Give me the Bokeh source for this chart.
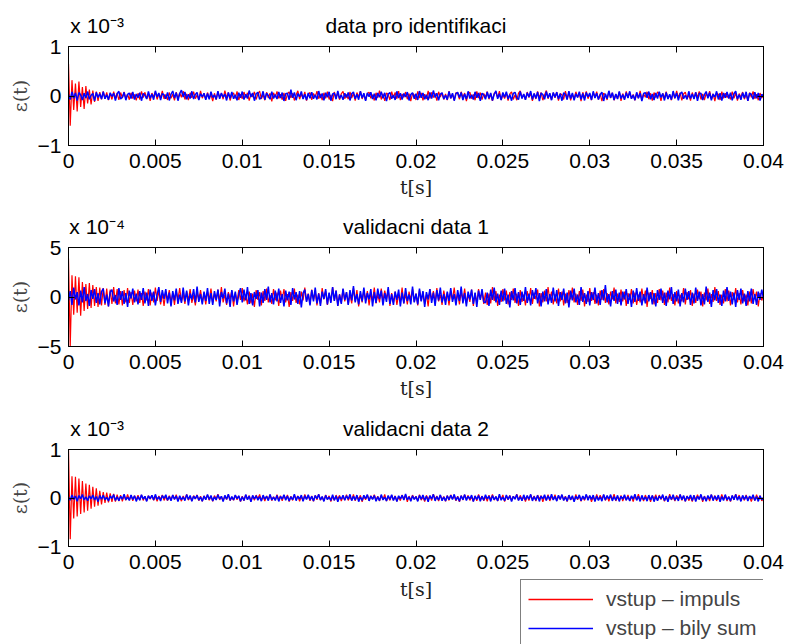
import numpy as np
from bokeh.plotting import figure
from bokeh.layouts import column
from bokeh.models import (Range1d, LinearAxis, FixedTicker, Legend,
                          LegendItem, CustomJSTickFormatter, Label)
from bokeh.embed import file_html
from bokeh.resources import INLINE

# ---------------- data (error values in units of 1e-6) ----------------
t_end = 0.04
x_ticks = [0, 0.005, 0.01, 0.015, 0.02, 0.025, 0.03, 0.035, 0.04]
titles = ["data pro identifikaci", "validacni data 1", "validacni data 2"]
exponents = ["x 10\u207b\u00b3", "x 10\u207b\u2074", "x 10\u207b\u00b3"]
y_limits = [1, 5, 1]
unit_div = [1000.0, 100.0, 1000.0]   # 1e-6 -> axis units 1e-3 / 1e-4 / 1e-3
legend_labels = ["vstup \u2013 impuls", "vstup \u2013 bily sum"]
x_label = "t[s]"
y_label = "\u03b5(t)"

impuls_1 = [
 650,-600,320,-280,250,-310,290,-220,180,-260,200,-150,130,-170,110,-120,90,-100,80,-70,
 95,-60,75,-85,50,-70,90,-45,60,-80,70,-40,85,-55,35,-75,65,-50,30,-90,
 55,-70,95,-30,75,-55,40,-100,60,-20,85,-70,45,-35,105,-60,30,-80,70,-45,
 35,-90,80,-50,60,-25,100,-70,40,-85,65,-35,90,-55,20,-75,105,-45,50,-65,
 70,-45,30,-105,55,-75,90,-30,50,-65,110,-40,70,-90,25,60,-50,95,-80,35,
 -55,80,-30,65,-95,45,-20,85,-70,40,100,-60,30,-85,75,-40,55,-110,65,-25,
 95,-50,35,-75,65,-100,45,80,-35,55,-90,25,105,-65,40,-50,85,-95,35,70,
 -80,50,-25,100,-55,40,-85,65,-45,90,-70,20,-105,80,-30,60,-75,45,95,-55,
 30,-65,85,-40,55,-95,70,-20,100,-60,35,-85,50,75,-45,25,-90,65,-35,110,
 -70,45,-100,60,30,-80,90,-35,70,-55,100,-85,40,-25,80,-65,50,-105,55,20,
 -80,95,-40,65,-90,35,-60,105,-50,75,-30,55,-95,85,-20,60,-70,40,-85,100,
 -50,35,-90,70,45,-65,85,-30,60,-105,40,80,-55,30,-85,95,-40,70,-75,50,
 -25,90,-65,40,-100,55,75,-35,100,-80,30,-50,65,-95,45,85,-70,25,-85,60,
 105,-45,35,-75,80,-30,55,-100,50,-60,95,-40,70,-85,20,110,-55,45,-80,65,
 -35,80,-95,50,25,-70,100,-50,65,-90,35,-60,85,-25,55,-105,75,-45,95,-55,
 40,-85,70,-30,90,-70,45,-105,60,20,-80,100,-40,65,-85,35,-55,85,-100,50,
 -65,95,-35,75,-50,30,-90,60,-45,105,-75,40,-25,85,-65,55,-95,70,-30,80,
 45,-100,55,-40,90,-60,25,-85,70,-50,105,-35,65,-90,40,80,-60,30,-95,70,
 -50,75,-25,95,-70,40,-85,55,-20,100,-65,45,-105,60,35,-80,90,-45,55,-30,
 25,-70,90,-45,60,-95,50,-30,80,-65,40,-100,70,-25,95,-55,35,-85,60,-40, 15]

bily_sum_1 = [
 30,-70,85,-45,60,-95,70,20,-80,55,-40,90,-65,15,50,-100,75,-30,45,-60,
 85,-55,25,-75,65,-10,55,-90,45,95,-60,-25,75,-85,35,60,-50,80,-70,40,
 -35,65,-95,50,15,-60,90,-45,40,-75,105,-20,60,-80,50,25,-55,70,-90,35,
 100,-40,65,-95,50,120,-20,80,-65,35,-50,95,-60,30,70,-80,45,-15,55,-75,
 50,-65,85,-30,20,-70,100,-55,60,-25,40,-90,70,-45,80,-55,25,-85,65,-35,
 90,-70,35,-50,110,-20,60,-95,45,75,-65,-30,95,-75,55,10,-65,85,-50,30,
 -60,80,-40,70,-100,45,55,-75,130,-35,70,-85,50,-15,90,-60,35,-80,60,-45,
 75,-55,25,-70,100,-40,50,-85,65,-25,85,-95,40,55,-65,105,-50,20,-75,55,
 -30,70,-90,45,80,-55,35,-75,95,-40,55,-100,65,-15,75,-60,45,-85,60,-25,
 85,-45,65,-105,40,70,-55,20,-80,95,-40,55,-70,50,-20,80,-90,30,65,-55,
 45,-80,100,-35,60,-65,25,-85,70,-50,110,-30,55,-85,40,65,-60,15,-75,90,
 -45,55,-95,50,75,-30,70,-80,40,-60,95,-50,25,-70,85,-35,60,-100,55,20,
 -65,80,-45,60,-90,35,105,-55,45,-80,70,-25,85,-60,30,-95,55,75,-40,-70,
 90,-50,40,-75,65,-20,100,-70,50,-45,80,-105,60,30,-65,90,-40,55,-85,70,
 -25,75,-60,45,-95,65,35,-75,100,-50,60,-85,45,-30,85,-65,50,-90,70,-20,
 60,-80,95,-40,55,-70,25,80,-100,45,-55,105,-35,65,-80,40,-60,90,-50,30,
 -75,65,-40,95,-55,20,-85,75,-45,55,-105,50,70,-35,90,-65,40,-80,60,-50,
 85,-30,50,-90,70,-60,35,-75,100,-40,60,-85,45,80,-55,15,-70,95,-50,40,
 -60,75,-100,50,55,-80,30,90,-45,65,-85,40,-25,95,-70,55,-95,60,-35,80,
 -50,65,-85,45,100,-60,25,-75,65,-40,85,-100,55,35,-65,75,-45,60,-90,30, 10]

impuls_2 = [
 390,-500,220,-180,210,-160,200,-190,150,-140,130,-120,140,-110,120,-90,100,-100,95,-85,
 90,-80,85,-95,75,-70,100,-65,80,-75,60,-85,70,-55,90,-60,50,-80,65,-45,
 75,-60,40,-90,55,-35,80,-85,45,-55,95,-40,65,-75,35,-90,55,-30,70,-60,
 40,-80,60,-25,90,-50,30,-70,55,-35,80,-60,20,-85,45,-30,70,-55,35,-75,
 55,-25,85,-65,35,-45,75,-40,100,-55,25,-80,50,-20,65,-95,40,-50,70,-30,
 90,-45,25,-75,55,-65,35,-100,70,-30,50,-85,60,-40,85,-55,20,-70,80,-35,
 45,-90,65,-25,80,-55,30,-100,50,-40,85,-60,25,-75,55,-35,95,-45,35,-65,
 75,-30,55,-85,40,-70,90,-25,60,-80,40,-50,100,-35,65,-90,30,-60,80,-45,
 50,-75,30,-65,90,-40,70,-95,35,-55,75,-30,60,-85,45,-35,95,-65,30,-55,
 85,-45,65,-20,75,-90,40,-60,55,-80,25,-45,95,-65,35,-75,55,-30,80,-50,
 35,-85,70,-40,50,-70,25,-95,80,-30,60,-55,90,-45,25,-80,65,-35,45,-85,
 60,-25,95,-55,40,-75,55,-35,85,-65,30,-50,75,-90,40,-60,80,-25,55,-70,
 45,-80,35,-65,100,-40,60,-90,25,-50,80,-35,65,-75,50,-30,85,-60,35,-90,
 70,-50,25,-85,60,-35,90,-70,45,-25,75,-95,40,-55,65,-45,100,-35,55,-75,
 30,-65,85,-45,55,-85,35,-60,70,-25,95,-55,35,-80,60,-40,75,-95,25,-50,
 90,-40,50,-70,25,-85,65,-30,80,-60,40,-75,55,-25,95,-65,35,-50,75,-45,
 55,-90,40,-30,80,-65,45,-80,25,-55,85,-35,65,-100,45,-20,70,-75,40,-60,
 80,-35,65,-80,45,-55,95,-40,30,-85,60,-65,25,-45,90,-75,50,-25,70,-90,
 35,-60,75,-25,55,-95,45,-35,85,-70,30,-50,100,-40,60,-80,25,-65,80,-45,
 65,-85,50,-30,90,-55,40,-75,70,-45,25,-85,55,-65,80,-25,55,-95,40,-35, 20]

bily_sum_2 = [
 -35,60,-80,95,-25,50,-85,65,-55,100,-40,30,-90,70,-20,80,-60,40,-75,55,
 85,-65,25,-95,50,75,-45,20,-80,90,-30,60,-70,40,-100,65,-15,85,-55,35,
 -75,60,-30,90,-65,45,-90,75,-40,55,-85,25,100,-50,70,-20,80,-65,45,-95,
 60,-35,85,-70,25,-60,95,-45,65,-85,35,-25,80,-55,105,-50,30,-75,55,-40,
 90,-70,40,-80,60,-30,75,-95,50,-15,85,-65,35,-100,70,-45,55,-80,25,90,
 -55,75,-35,100,-70,40,-85,50,-20,70,-95,45,-60,80,-30,105,-55,40,-75,65,
 -45,85,-60,30,-95,65,-35,55,-80,90,-25,50,-70,60,-105,40,75,-50,30,-85,
 70,-45,95,-65,35,-90,55,-20,80,-75,45,-60,100,-40,65,-90,25,-70,85,-30,
 50,-80,70,-35,110,-55,30,-75,60,-45,95,-65,40,-25,80,-95,50,-60,85,-20,
 65,-85,40,-50,100,-70,30,-80,55,-30,75,-95,45,-65,90,-40,25,-75,105,-55,
 35,-75,85,-45,60,-100,50,-25,80,-60,45,-90,70,-35,95,-55,30,-80,55,-40,
 90,-50,30,-85,70,-40,105,-65,40,-95,55,-25,75,-70,45,-100,65,-30,80,-50,
 -60,45,-90,75,-30,95,-55,35,-80,65,-45,85,-70,25,-105,60,-35,90,-65,50,
 -80,55,-40,100,-60,35,-85,70,-20,90,-65,40,-95,55,-45,80,-75,30,-60,95,
 -45,70,-90,50,-30,85,-65,45,-105,65,-35,85,-55,25,-80,100,-50,40,-70,60,
 -85,50,-30,95,-65,40,-80,70,-35,120,-55,30,-95,60,-40,75,-70,45,-85,55,
 -25,80,-70,35,-100,65,-50,90,-40,55,-85,30,-65,95,-45,50,-75,40,-95,70,
 -30,85,-60,45,-90,65,-25,100,-70,50,-45,75,-95,40,-55,85,-30,60,-80,45,
 -65,95,-40,55,-85,30,-75,105,-50,45,-100,70,-35,80,-60,25,-90,65,-45,100,
 -40,55,-75,45,-100,70,-30,85,-65,35,-90,60,-45,85,-70,30,-80,55,-30,75, -15]

impuls_3 = [
 1000,-850,450,-420,440,-380,400,-330,350,-300,300,-260,270,-220,230,-180,200,-160,150,-130,
 120,-100,110,-90,95,-80,85,-75,70,-65,60,-70,55,-45,75,-40,50,-60,45,-35,
 55,-40,65,-50,30,-60,45,-25,55,-45,35,-70,40,-25,65,-50,30,-55,45,-35,
 60,-30,70,-50,20,-65,40,-35,75,-45,30,-60,50,-20,65,-55,35,-70,45,-25,
 60,-45,35,-70,50,-25,80,-40,30,-60,45,-30,70,-55,20,-45,60,-35,40,-75,
 35,-55,65,-25,50,-70,40,-45,60,-20,75,-50,30,-65,45,-35,70,-55,25,-40,
 70,-35,45,-60,55,-25,65,-75,35,-50,55,-30,45,-70,30,-55,75,-20,50,-60,
 40,-70,55,-35,80,-45,25,-60,65,-30,45,-75,35,-50,60,-25,55,-65,30,-40,
 70,-50,25,-45,75,-60,40,-25,55,-80,35,-35,65,-55,45,-20,70,-45,35,-65,
 50,-30,75,-65,30,-50,60,-40,45,-70,25,-55,65,-30,55,-80,40,-45,60,-25,
 35,-60,70,-45,25,-75,55,-35,45,-55,80,-25,40,-65,60,-35,30,-70,50,-50,
 65,-20,45,-60,35,-80,50,-40,70,-30,55,-50,25,-70,45,-60,75,-30,40,-55,
 30,-70,60,-35,75,-45,30,-65,50,-25,65,-75,40,-35,55,-50,35,-20,80,-45,
 55,-40,25,-75,45,-55,70,-30,40,-65,60,-25,50,-80,35,-45,70,-60,30,-35,
 70,-55,40,-25,65,-45,35,-75,55,-40,25,-60,75,-35,50,-70,30,-50,60,-20,
 45,-80,30,-60,75,-35,55,-25,65,-50,40,-70,45,-30,80,-60,25,-45,55,-65,
 35,-45,65,-55,30,-75,50,-35,80,-45,25,-65,60,-30,40,-80,50,-25,70,-50,
 60,-30,45,-70,40,-55,80,-40,30,-65,55,-20,75,-50,35,-70,45,-55,25,-75,
 50,-35,70,-25,60,-80,40,-50,30,-65,70,-40,50,-60,25,-45,75,-30,55,-65,
 30,-75,50,-40,80,-30,60,-55,35,-50,65,-35,25,-75,45,-55,70,-25,45,-60, -5]

bily_sum_3 = [
 20,-45,60,-30,40,-65,50,-15,70,-40,25,-55,45,-20,60,-40,30,-75,50,-25,
 55,-35,15,-60,40,-10,70,-50,25,-55,35,-25,80,-40,20,-50,60,-30,45,-70,
 30,-45,65,-20,35,-70,45,-15,55,-40,75,-30,25,-60,50,-10,65,-45,30,-55,
 60,-25,40,-75,45,-35,20,-55,70,-30,50,-65,35,-15,55,-45,20,-65,40,-35,
 70,-30,50,-60,25,-40,65,-20,35,-75,55,-25,80,-50,30,-40,60,-15,45,-65,
 25,-50,70,-35,40,-80,55,-20,45,-45,30,-65,60,-25,35,-55,75,-40,20,-50,
 50,-70,30,-20,65,-45,40,-60,25,-35,80,-55,35,-20,60,-70,45,-30,65,-40,
 35,-60,50,-15,75,-40,30,-70,55,-30,20,-50,65,-45,40,-80,30,-25,55,-45,
 45,-25,75,-55,35,-40,60,-75,20,-50,55,-15,70,-60,40,-30,50,-65,25,-55,
 70,-40,20,-60,50,-30,65,-50,35,-75,45,-20,55,-40,85,-35,25,-65,45,-30,
 30,-70,55,-25,60,-45,35,-80,50,-20,75,-60,30,-40,65,-55,20,-60,45,-35,
 55,-30,75,-45,25,-65,45,-35,70,-50,35,-20,60,-75,40,-30,50,-65,35,-45,
 65,-20,40,-70,50,-35,30,-60,80,-45,20,-55,60,-30,45,-75,35,-25,70,-50,
 25,-55,65,-40,50,-25,75,-60,30,-45,55,-70,40,-20,65,-50,45,-35,80,-40,
 35,-65,55,-30,70,-50,25,-65,60,-35,45,-80,35,-20,65,-55,40,-30,75,-45,
 50,-30,60,-75,40,-50,25,-65,75,-40,50,-20,70,-60,30,-45,55,-70,35,-25,
 65,-45,30,-60,45,-25,80,-50,35,-70,55,-35,20,-65,60,-40,50,-75,30,-55,
 40,-20,70,-55,35,-80,45,-30,65,-45,25,-60,70,-35,50,-65,35,-20,60,-50,
 55,-75,35,-30,75,-45,30,-65,50,-25,70,-55,40,-35,60,-80,30,-50,70,-40,
 25,-60,50,-35,75,-45,35,-70,55,-30,45,-60,40,-20,65,-50,30,-70,45,-35, 10]

impuls_series = [impuls_1, impuls_2, impuls_3]
bily_series = [bily_sum_1, bily_sum_2, bily_sum_3]
series_colors = ["#ff0000", "#0000ff"]

# ---------------- styling / layout ----------------
FONT = "Liberation Sans"
SERIF = "DejaVu Serif"
FS = "21px"

x_fmt = CustomJSTickFormatter(code="return tick.toString();")
y_fmt = CustomJSTickFormatter(
    code="return tick < 0 ? '\\u2212' + (-tick) : tick.toString();")

heights = [201, 201, 177]
tops = [46, 46, 47]
bottoms = [56, 56, 33]

figs = []
for i in range(3):
    lim = y_limits[i]
    p = figure(width=787, height=heights[i], x_range=Range1d(0, t_end),
               y_range=Range1d(-lim, lim), output_backend="svg",
               toolbar_location=None, min_border_left=68, min_border_right=24,
               min_border_top=tops[i], min_border_bottom=bottoms[i],
               x_axis_label=(x_label if i < 2 else None), y_axis_label=y_label)
    p.grid.visible = False
    p.outline_line_color = "black"
    p.outline_line_width = 1
    p.background_fill_color = "white"
    p.border_fill_color = "white"

    yt = [-lim, 0, lim]
    for ax in p.xaxis:
        ax.ticker = FixedTicker(ticks=x_ticks)
        ax.formatter = x_fmt
    for ax in p.yaxis:
        ax.ticker = FixedTicker(ticks=yt)
        ax.formatter = y_fmt
    for ax in list(p.xaxis) + list(p.yaxis):
        ax.major_tick_in = 6
        ax.major_tick_out = 0
        ax.minor_tick_line_color = None
        ax.axis_line_color = "black"
        ax.major_tick_line_color = "black"
        ax.major_label_text_font = FONT
        ax.major_label_text_font_size = FS
        ax.major_label_text_color = "black"
        ax.axis_label_text_font = SERIF
        ax.axis_label_text_font_style = "normal"
        ax.axis_label_text_font_size = "19px"
    p.xaxis.major_label_standoff = 8
    p.xaxis.axis_label_standoff = 5
    p.xaxis.axis_label_text_color = "#222222"
    p.yaxis.major_label_standoff = 7
    p.yaxis.axis_label_standoff = 4
    p.yaxis.axis_label_text_color = "#444444"

    # box ticks on the top and right edges (no labels)
    top_ax = LinearAxis(ticker=FixedTicker(ticks=x_ticks), major_tick_in=6,
                        major_tick_out=0, minor_tick_line_color=None,
                        major_label_text_color=None, major_label_standoff=0,
                        axis_line_color="black")
    right_ax = LinearAxis(ticker=FixedTicker(ticks=yt), major_tick_in=6,
                          major_tick_out=0, minor_tick_line_color=None,
                          major_label_text_color=None, major_label_standoff=0,
                          axis_line_color="black")
    p.add_layout(top_ax, "above")
    p.add_layout(right_ax, "right")

    # exponent text and panel title sharing one line above the box
    head_fmt = CustomJSTickFormatter(args=dict(ex=exponents[i], ti=titles[i]),
                                     code="return tick < 0.01 ? ex : ti;")
    head_ax = LinearAxis(ticker=FixedTicker(ticks=[0.00165, t_end / 2]),
                         formatter=head_fmt, major_tick_in=0, major_tick_out=0,
                         major_tick_line_color=None, minor_tick_line_color=None,
                         axis_line_color=None, major_label_standoff=10,
                         major_label_text_font=FONT, major_label_text_font_size=FS,
                         major_label_text_color="black")
    p.add_layout(head_ax, "above")

    raw_r = impuls_series[i]
    raw_b = bily_series[i]
    tr = np.linspace(0, t_end, len(raw_r))
    tb = np.linspace(0, t_end, len(raw_b))
    yr = np.array(raw_r, dtype=float) / unit_div[i]
    yb = np.array(raw_b, dtype=float) / unit_div[i]
    p.line(tr, yr, line_color=series_colors[0], line_width=1.2)
    p.line(tb, yb, line_color=series_colors[1], line_width=1.5)
    figs.append(p)

# ---------------- bottom strip: x label of last panel + legend ----------------
strip_h = 65
p4 = figure(width=787, height=strip_h, x_range=Range1d(0, t_end),
            y_range=Range1d(0, strip_h), output_backend="svg",
            toolbar_location=None, min_border=0, x_axis_type=None,
            y_axis_type=None)
p4.grid.visible = False
p4.outline_line_color = None
p4.background_fill_color = "white"
p4.border_fill_color = "white"
p4.add_layout(Label(x=t_end / 2, y=strip_h - 9.5, text=x_label, text_align="center",
                    text_baseline="middle", text_font=SERIF,
                    text_font_size="19px", text_color="#222222"))
proxy_r = p4.line(x=np.array([np.nan]), y=np.array([np.nan]),
                  line_color="red", line_alpha=1.0, line_width=1.3)
proxy_b = p4.line(x=np.array([np.nan]), y=np.array([np.nan]),
                  line_color="blue", line_alpha=1.0, line_width=1.3)
legend = Legend(items=[LegendItem(label=legend_labels[0], renderers=[proxy_r]),
                       LegendItem(label=legend_labels[1], renderers=[proxy_b])],
                location=(452, -4), orientation="vertical",
                label_text_font=FONT, label_text_font_size=FS,
                glyph_width=65, glyph_height=20, label_standoff=13,
                padding=7, spacing=5, margin=0,
                border_line_color="black", border_line_width=1,
                background_fill_color="white", background_fill_alpha=1.0)
p4.add_layout(legend, "center")
figs.append(p4)

layout = column(*figs, spacing=0)
open("out.html", "w").write(file_html(layout, INLINE))
